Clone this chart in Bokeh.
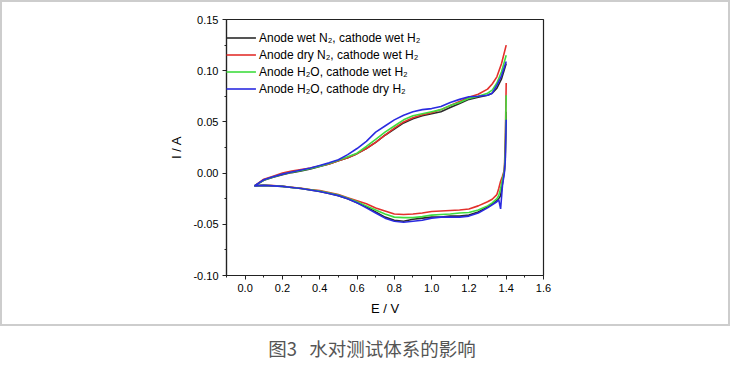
from bokeh.plotting import figure
from bokeh.models import FixedTicker, Legend, LegendItem, Div, Range1d, NumeralTickFormatter
from bokeh.layouts import column
from bokeh.embed import file_html
from bokeh.resources import INLINE

# Potential grids (V)
E_down = [1.40, 1.395, 1.39, 1.38, 1.37, 1.36, 1.35, 1.325, 1.30, 1.25, 1.20, 1.15, 1.10, 1.05,
          1.00, 0.95, 0.90, 0.85, 0.80, 0.75, 0.70, 0.65, 0.60, 0.55, 0.50, 0.45, 0.40, 0.35,
          0.30, 0.25, 0.20, 0.15, 0.10, 0.05]
E_up = [0.05, 0.10, 0.15, 0.20, 0.25, 0.30, 0.35, 0.40, 0.45, 0.50, 0.55, 0.60, 0.65, 0.70,
        0.75, 0.80, 0.85, 0.90, 0.95, 1.00, 1.05, 1.10, 1.15, 1.20, 1.25, 1.30, 1.325, 1.35,
        1.375, 1.40]

# Currents (A), cathodic (down) and anodic (up) branches
wetN2_down = [0.060, 0.015, 0.002, -0.010, -0.022, -0.025, -0.027, -0.030, -0.033, -0.038, -0.041,
              -0.042, -0.042, -0.043, -0.043, -0.044, -0.045, -0.047, -0.046, -0.043, -0.038,
              -0.033, -0.029, -0.025, -0.022, -0.020, -0.018, -0.0165, -0.015, -0.014, -0.013,
              -0.0125, -0.012, -0.0125]
wetN2_up = [-0.0125, -0.007, -0.004, -0.0015, 0.0005, 0.002, 0.004, 0.0065, 0.009, 0.012, 0.015,
            0.019, 0.024, 0.030, 0.037, 0.043, 0.049, 0.053, 0.056, 0.058, 0.060, 0.064, 0.068,
            0.072, 0.074, 0.076, 0.078, 0.083, 0.092, 0.107]

dryN2_down = [0.088, 0.030, 0.003, -0.003, -0.008, -0.015, -0.021, -0.0255, -0.028, -0.032, -0.035,
              -0.036, -0.0365, -0.037, -0.0375, -0.039, -0.040, -0.0405, -0.040, -0.037, -0.034,
              -0.030, -0.027, -0.024, -0.021, -0.019, -0.017, -0.016, -0.0148, -0.0138, -0.0128,
              -0.0122, -0.0118, -0.0125]
dryN2_up = [-0.0125, -0.006, -0.003, 0.000, 0.002, 0.0035, 0.005, 0.007, 0.009, 0.012, 0.015,
            0.019, 0.024, 0.030, 0.037, 0.044, 0.050, 0.054, 0.057, 0.059, 0.062, 0.066, 0.070,
            0.074, 0.077, 0.082, 0.087, 0.094, 0.107, 0.125]

h2o_wetH2_down = [0.076, 0.020, 0.002, -0.006, -0.015, -0.022, -0.025, -0.029, -0.032, -0.036,
                  -0.0385, -0.039, -0.040, -0.0405, -0.041, -0.0425, -0.0435, -0.0435, -0.043,
                  -0.040, -0.036, -0.032, -0.028, -0.0245, -0.0215, -0.0195, -0.0175, -0.0163,
                  -0.015, -0.014, -0.013, -0.0123, -0.012, -0.0125]
h2o_wetH2_up = [-0.0125, -0.0068, -0.0038, -0.0012, 0.0008, 0.0025, 0.0045, 0.0068, 0.0093, 0.0125,
                0.016, 0.0195, 0.026, 0.033, 0.040, 0.046, 0.052, 0.056, 0.058, 0.060, 0.062,
                0.066, 0.069, 0.073, 0.075, 0.078, 0.081, 0.088, 0.099, 0.115]

h2o_dryH2_down = [0.052, 0.012, 0.000, -0.012, -0.035, -0.026, -0.028, -0.031, -0.034, -0.039,
                  -0.042, -0.043, -0.043, -0.043, -0.044, -0.046, -0.047, -0.048, -0.047, -0.044,
                  -0.039, -0.034, -0.029, -0.025, -0.022, -0.020, -0.018, -0.0165, -0.015, -0.014,
                  -0.013, -0.0125, -0.012, -0.0125]
h2o_dryH2_up = [-0.0125, -0.0065, -0.0035, -0.001, 0.001, 0.003, 0.005, 0.0075, 0.010, 0.013,
                0.018, 0.024, 0.031, 0.040, 0.046, 0.052, 0.0565, 0.060, 0.062, 0.063, 0.065,
                0.069, 0.072, 0.0745, 0.075, 0.076, 0.078, 0.086, 0.095, 0.109]

labels = ["Anode wet N\u2082, cathode wet H\u2082",
          "Anode dry N\u2082, cathode wet H\u2082",
          "Anode H\u2082O, cathode wet H\u2082",
          "Anode H\u2082O, cathode dry H\u2082"]
colors = ["#2a2a2a", "#e3302c", "#3fdc3f", "#2b2be0"]

x_ticks = [0.0, 0.2, 0.4, 0.6, 0.8, 1.0, 1.2, 1.4, 1.6]
y_ticks = [-0.10, -0.05, 0.00, 0.05, 0.10, 0.15]

caption = "图3&nbsp;&nbsp;&nbsp;水对测试体系的影响"

FONT = "Liberation Sans"

p = figure(width=730, height=326, output_backend="svg", toolbar_location=None,
           x_range=Range1d(-0.1, 1.6), y_range=Range1d(-0.10, 0.15),
           min_border_left=224, min_border_right=189, min_border_top=17, min_border_bottom=53,
           styles={"border": "2px solid #cdcdcd"})
p.grid.visible = False
p.outline_line_color = "#222222"
p.outline_line_width = 1.2
p.background_fill_color = "white"
p.border_fill_color = "white"

series = [(wetN2_down, wetN2_up), (dryN2_down, dryN2_up),
          (h2o_wetH2_down, h2o_wetH2_up), (h2o_dryH2_down, h2o_dryH2_up)]
renderers = []
for (dn, up), c in zip(series, colors):
    r = p.line(E_down + E_up, dn + up, line_color=c, line_width=1.6)
    renderers.append(r)

for ax, ticks, fmt, lab in ((p.xaxis[0], x_ticks, "0.0", "E / V"), (p.yaxis[0], y_ticks, "0.00", "I / A")):
    step = ticks[1] - ticks[0]
    ax.ticker = FixedTicker(ticks=ticks,
                            minor_ticks=[t + step / 2 for t in ticks[:-1]] + [ticks[0] - step / 2])
    ax.formatter = NumeralTickFormatter(format=fmt)
    ax.axis_label = lab
    ax.axis_label_text_font = FONT
    ax.axis_label_text_font_style = "normal"
    ax.axis_label_text_font_size = "13px"
    ax.axis_label_text_color = "black"
    ax.major_label_text_font = FONT
    ax.major_label_text_font_size = "11px"
    ax.major_label_text_color = "black"
    ax.axis_line_color = "#222222"
    ax.axis_line_width = 1.2
    ax.major_tick_line_color = "#222222"
    ax.minor_tick_line_color = "#222222"
    ax.major_tick_in = 0
    ax.major_tick_out = 4
    ax.minor_tick_in = 0
    ax.minor_tick_out = 2
    ax.major_label_standoff = 4
    ax.axis_label_standoff = 6

legend = Legend(items=[LegendItem(label=l, renderers=[r]) for l, r in zip(labels, renderers)],
                location=(0, 178), border_line_color=None, background_fill_alpha=0,
                padding=1, margin=0, spacing=0, glyph_width=30, glyph_height=17, label_height=17,
                label_standoff=3, label_text_font=FONT, label_text_font_size="12px",
                label_text_color="black")
p.add_layout(legend, "center")

cap = Div(text=f'<div style="text-align:center;width:734px;font-family:\'Noto Sans CJK SC\';'
               f'font-size:18.5px;line-height:19px;color:#555555;padding-top:8px;">{caption}</div>',
          width=734, height=40)

layout = column(p, cap, spacing=0)
open("out.html", "w").write(file_html(layout, INLINE))
